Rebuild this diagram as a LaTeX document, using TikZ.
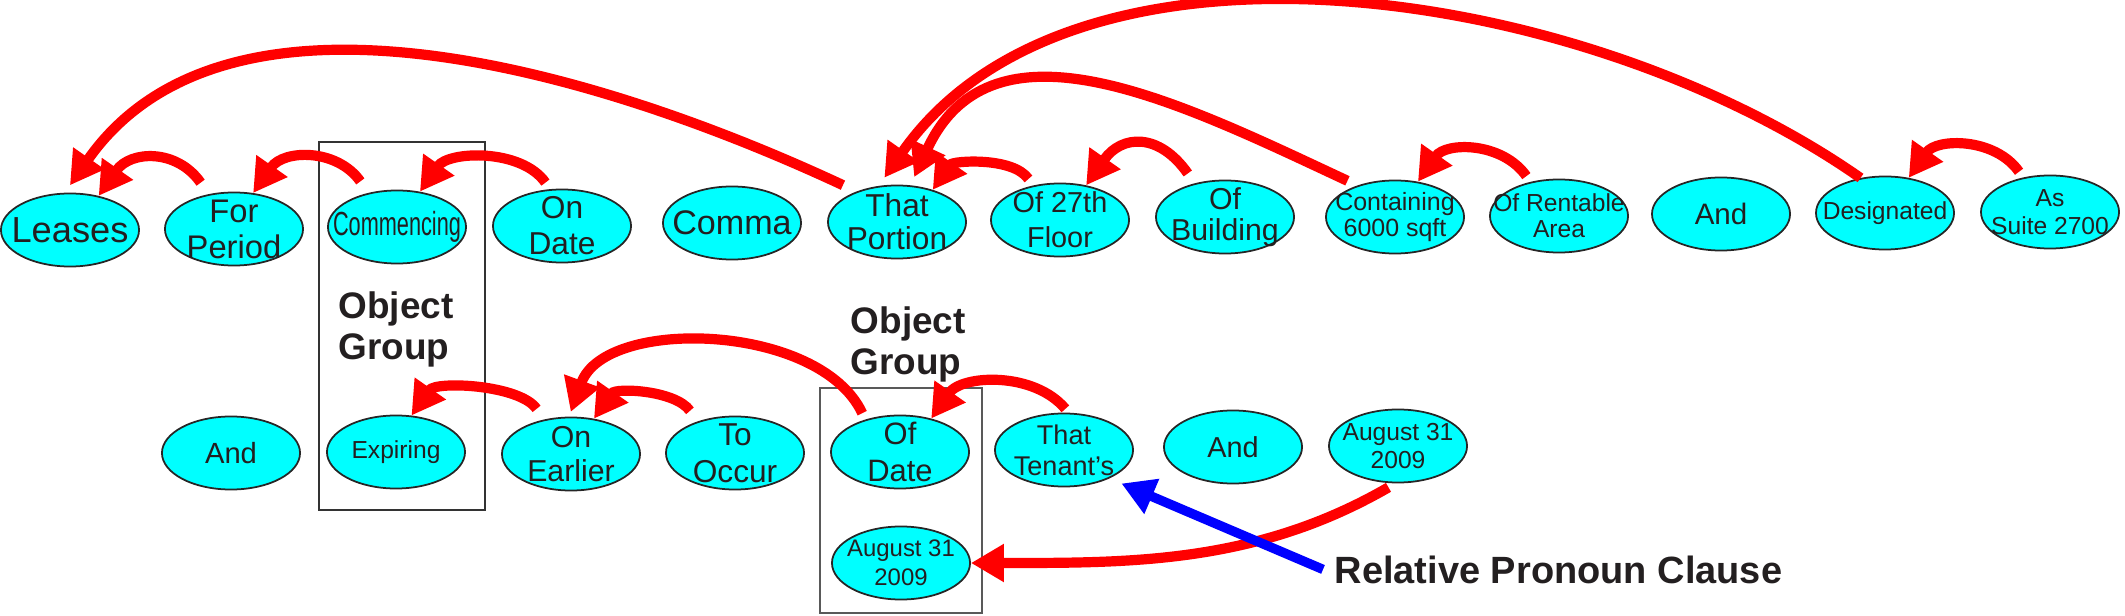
\documentclass[tikz,border=0pt]{standalone}
\usepackage{fontspec}
\usepackage{graphicx}
\setmainfont{Liberation Sans}
\usetikzlibrary{shapes.geometric, arrows.meta}

\definecolor{aqua}{RGB}{0,255,255}
\definecolor{ink}{RGB}{35,31,32}
\newcommand{\wsize}[2]{\fontsize{#1}{#2}\selectfont}

\tikzset{
  word/.style={ellipse, draw=black!85, line width=0.5pt, fill=aqua, text=ink,
    minimum width=1.38cm, minimum height=0.73cm, inner sep=-1cm, align=center},
  link/.style={draw=red, line width=2.9pt, -{Triangle[length=3.3mm, width=3.6mm]}},
  pointer/.style={draw=blue, line width=2.7pt, -{Triangle[length=3.3mm, width=3.6mm]}},
  groupbox/.style={draw=black!80, line width=0.6pt},
  tag/.style={font=\bfseries\wsize{10.5}{11.7}, text=ink, inner sep=0pt, align=left}
}

\begin{document}
\begin{tikzpicture}[x=0.01cm, y=0.01cm]
    \useasboundingbox (0,0) rectangle (2125,615);

    % ==== GROUP BOXES ====
    \draw[groupbox] (319,105) rectangle (485,473);
    \draw[groupbox, draw=black!65] (820,2) rectangle (982,227);

    % ==== TOP ROW ====
    \node[word, font=\wsize{10.3}{12}] (leases) at (70,385) {Leases};
    \node[word, font=\wsize{9.3}{10.2}] (forperiod) at (234,386) {For\\Period};
    \node[word, font=\wsize{9.5}{10}] (commencing) at (397,388) {\scalebox{0.65}[1]{Commencing}};
    \node[word, font=\wsize{9}{10.2}] (ondate) at (562,389) {On\\Date};
    \node[word, font=\wsize{9.7}{11}] (comma) at (732,392) {Comma};
    \node[word, font=\wsize{9}{9.3}] (portion) at (897,393) {That\\Portion};
    \node[word, font=\wsize{8.2}{10}] (floor) at (1060,395) {Of 27th\\Floor};
    \node[word, font=\wsize{8.6}{8.8}] (building) at (1225,398) {Of\\Building};
    \node[word, font=\wsize{7.1}{7.6}] (containing) at (1395,398) {Containing\\6000 sqft};
    \node[word, font=\wsize{7}{7.4}] (rentable) at (1559,399) {Of Rentable\\Area};
    \node[word, font=\wsize{8.4}{10}] (andtop) at (1721,401) {And};
    \node[word, font=\wsize{7}{8}] (designated) at (1885,402) {Designated};
    \node[word, font=\wsize{7}{8}] (suite) at (2050,403) {As\\Suite 2700};

    % ==== BOTTOM ROW ====
    \node[word, font=\wsize{8.3}{10}] (andlow) at (231,162) {And};
    \node[word, font=\wsize{7}{8}] (expiring) at (396,163) {Expiring};
    \node[word, font=\wsize{8.6}{9.5}] (onearlier) at (571,161) {On\\Earlier};
    \node[word, font=\wsize{9}{10.4}] (tooccur) at (735,162) {To\\Occur};
    \node[word, font=\wsize{8.8}{10.6}] (ofdate) at (900,163) {Of\\Date};
    \node[word, font=\wsize{7.7}{8.8}] (tenant) at (1064,165) {That\\Tenant’s};
    \node[word, font=\wsize{8.2}{10}] (andmid) at (1233,168) {And};
    \node[word, font=\wsize{7}{8.1}] (augright) at (1398,169) {August 31\\2009};
    \node[word, font=\wsize{6.8}{8.1}] (auglow) at (901,52) {August 31\\2009};

    % ==== LABELS ====
    \node[tag, anchor=north west] (grouptagA) at (338,324) {Object\\Group};
    \node[tag, anchor=north west] (grouptagB) at (850,309) {Object\\Group};
    \node[font=\bfseries\wsize{10.8}{13}, text=ink, inner sep=1.1mm, anchor=base west]
        (relclause) at (1323,32) {Relative Pronoun Clause};

    % ==== SHORT LINKS, TOP ROW ====
    \draw[link, shorten <=1.4mm] (forperiod.126) to[out=125, in=55, looseness=1.29] (leases.50);
    \draw[link, shorten <=1.4mm] (commencing.130) to[out=125, in=55, looseness=1.2] (forperiod.62);
    \draw[link, shorten <=0.8mm] (ondate.108) to[out=125, in=55, looseness=0.98] (commencing.57);
    \draw[link, shorten <=0.8mm] (floor.128) to[out=125, in=55, looseness=0.9] (portion.42);
    \draw[link, shorten <=1.2mm] (building.132) to[out=125, in=55, looseness=1.46] (floor.53);
    \draw[link, shorten <=0.7mm] (rentable.130) to[out=125, in=55, looseness=1.11] (containing.57);
    \draw[link, shorten <=0.7mm] (suite.128) to[out=125, in=55, looseness=1.09] (designated.56);

    % ==== LONG LINKS, TOP ROW ====
    \draw[link, shorten <=1.5mm, shorten >=0.9mm] (portion.143) to[out=155, in=55, looseness=0.92] (leases.98);
    \draw[link, shorten <=1.1mm, shorten >=0.9mm] (containing.140) to[out=155, in=65, looseness=1.12] (portion.70);
    \draw[link, shorten >=1mm] (designated.125) to[out=145, in=55, looseness=0.88] (portion.117);

    % ==== LINKS, BOTTOM ROW ====
    \draw[link, shorten <=1.3mm] (onearlier.128) to[out=125, in=55, looseness=0.82] (expiring.67);
    \draw[link, shorten <=1.3mm] (tooccur.140) to[out=125, in=55, looseness=0.94] (onearlier.57);
    \draw[link, shorten <=0.7mm, shorten >=0.5mm] (ofdate.137) to[out=115, in=70, looseness=0.92] (onearlier.93);
    \draw[link, shorten <=0.5mm] (tenant.83) to[out=130, in=55, looseness=1.0] (ofdate.47);
    \draw[link, shorten <=0.8mm] (augright.266) to[out=210, in=0, looseness=0.95] (auglow.east);

    % ==== RELATIVE PRONOUN POINTER ====
    \draw[pointer, shorten >=1.3mm] (relclause.west) -- (tenant.328);

\end{tikzpicture}
\end{document}
